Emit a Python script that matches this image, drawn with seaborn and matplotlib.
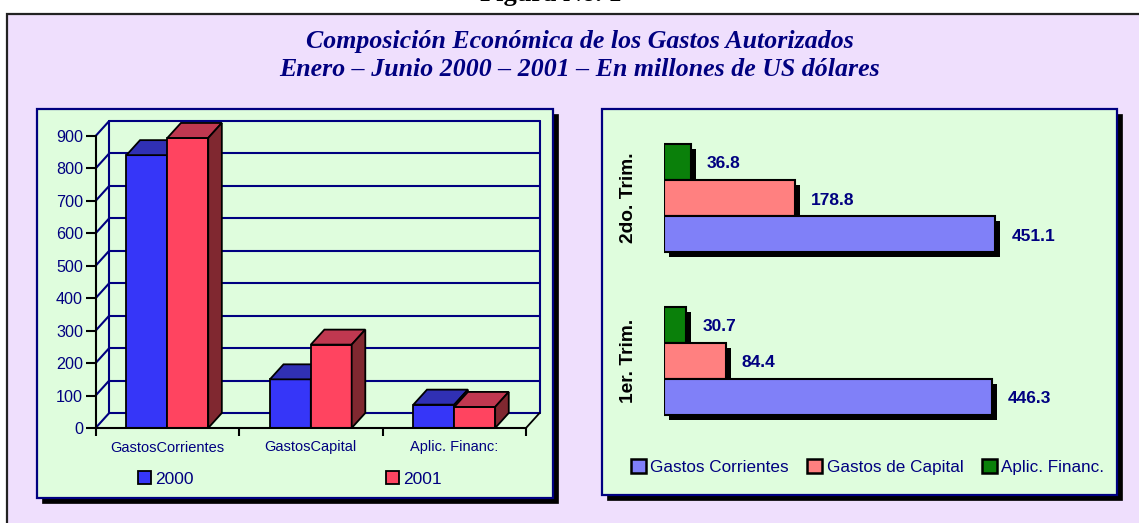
import numpy as np
import pandas as pd
import seaborn as sns
import matplotlib
matplotlib.use('Agg')
import matplotlib.pyplot as plt
import matplotlib.patches as mpatches
import matplotlib.patheffects as pe

# Data
years = ['2000', '2001']
year_cats = ['GastosCorrientes', 'GastosCapital', 'Aplic. Financ:']
vals_2000 = [841, 150, 72]
vals_2001 = [894, 257, 65]

trims = ['2do. Trim.', '1er. Trim.']
comp_names = ['Aplic. Financ.', 'Gastos de Capital', 'Gastos Corrientes']
aplic = [36.8, 30.7]
capital = [178.8, 84.4]
corrientes = [451.1, 446.3]

title = ('Composición Económica de los Gastos Autorizados\n'
         'Enero – Junio 2000 – 2001 – En millones de US dólares')

# Colours
navy = '#000080'
purple = '#EFDFFD'
mint = '#DFFDDD'
year_front = ['#3636F8', '#FF4460']
year_top = ['#3030B4', '#C03850']
year_side = ['#2A2A80', '#802830']
comp_colors = ['#0A800A', '#FF8080', '#8080F8']

W, H = 1139, 523
sns.set_theme(style='white')
plt.rcParams['font.family'] = ['Liberation Sans', 'DejaVu Sans']
fig = plt.figure(figsize=(W / 100, H / 100), dpi=100, facecolor='white')


def fx(x):
    return x / W


def fy(y):
    return 1 - y / H


def px_rect(x0, y0, x1, y1, **kw):
    r = mpatches.Rectangle((fx(x0), fy(y1)), (x1 - x0) / W, (y1 - y0) / H,
                           transform=fig.transFigure, zorder=-5, **kw)
    fig.add_artist(r)
    return r


def px_axes(x0, y0, x1, y1):
    ax = fig.add_axes([fx(x0), fy(y1), (x1 - x0) / W, (y1 - y0) / H])
    ax.patch.set_alpha(0)
    return ax


# Background panels
px_rect(7, 14, W + 10, H + 10, facecolor=purple, edgecolor='#222222', linewidth=1.6)
for x0, y0, x1, y1 in [(36.5, 109, 552.5, 498), (602, 109, 1117, 495)]:
    px_rect(x0 + 5, y0 + 5, x1 + 5, y1 + 5, facecolor='black', edgecolor='black', linewidth=0.5)
    px_rect(x0, y0, x1, y1, facecolor=mint, edgecolor=navy, linewidth=1.6)

fig.text(fx(551), fy(1.5), 'Figura No. 1', ha='center', va='baseline', color='black',
         fontsize=19, fontweight='bold', family='Liberation Serif')
fig.text(fx(580), fy(55.5), title, ha='center', va='center', color=navy, fontsize=18.6,
         fontweight='bold', fontstyle='italic', family='Liberation Serif', linespacing=1.3)

# Left chart: 3D looking columns
ax = px_axes(95.6, 136, 526, 428)
df_year = pd.DataFrame({'cat': year_cats * 2,
                        'year': years[0:1] * 3 + years[1:2] * 3,
                        'value': vals_2000 + vals_2001})
sns.barplot(df_year, x='cat', y='value', hue='year', ax=ax, palette=year_front,
            width=0.57, gap=0, legend=False, edgecolor='black', linewidth=1.3, saturation=1)
ax.set_xlim(-0.5, 2.5)
ax.set_ylim(0, 900)
ax.set_xlabel('')
ax.set_ylabel('')

# depth in data units, from the pixel offset of the back wall
dx = 13.6 / (430.4 / 3)
dy = 15 / (292 / 900)
yt = np.arange(0, 1000, 100)
for v in yt:
    ax.plot([-0.5 + dx, 2.5 + dx], [v + dy, v + dy], color=navy, lw=1.5, clip_on=False, zorder=0.5)
    ax.plot([-0.5, -0.5 + dx], [v, v + dy], color=navy, lw=1.5, clip_on=False, zorder=0.5)
for x in [-0.5 + dx, 2.5 + dx]:
    ax.plot([x, x], [dy, 900 + dy], color=navy, lw=1.5, clip_on=False, zorder=0.5)
ax.plot([2.5, 2.5 + dx], [0, dy], color='black', lw=1.3, clip_on=False, zorder=0.6)

for i, cont in enumerate(ax.containers):
    for bar in cont:
        bar.set_zorder(2 + i)
        x0, x1 = bar.get_x(), bar.get_x() + bar.get_width()
        h = bar.get_height()
        top = [(x0, h), (x0 + dx, h + dy), (x1 + dx, h + dy), (x1, h)]
        side = [(x1, 0), (x1 + dx, dy), (x1 + dx, h + dy), (x1, h)]
        ax.add_patch(mpatches.Polygon(top, facecolor=year_top[i], edgecolor='black', lw=1.3,
                                      clip_on=False, zorder=2 + i))
        ax.add_patch(mpatches.Polygon(side, facecolor=year_side[i], edgecolor='black', lw=1.3,
                                      clip_on=False, zorder=2 + i))

sns.despine(ax=ax)
for s in ['left', 'bottom']:
    ax.spines[s].set_color('black')
    ax.spines[s].set_linewidth(1.5)
    ax.spines[s].set_zorder(10)
ax.set_yticks(yt)
ax.set_xticks([-0.5, 0.5, 1.5, 2.5], labels=[''] * 4)
ax.set_xticks([0, 1, 2], labels=year_cats, minor=True)
ax.tick_params(axis='y', left=True, length=7, width=1.5, color='black', labelcolor=navy,
               labelsize=11.6, pad=2)
ax.tick_params(axis='x', which='major', bottom=True, length=6, width=1.5, color='black')
ax.tick_params(axis='x', which='minor', bottom=False, length=0, labelcolor=navy, labelsize=10.5, pad=9)
handles = [mpatches.Patch(facecolor=c, edgecolor='black', linewidth=1.3) for c in year_front]
fig.legend(handles, years, ncol=2, loc='center', bbox_to_anchor=(fx(290), fy(479)), frameon=False,
           fontsize=12.5, labelcolor=navy, borderpad=0, handlelength=0.72, handleheight=0.72,
           handletextpad=0.25, columnspacing=11.1)

# Right chart: horizontal bars with a hard shadow
ax2 = px_axes(663.8, 116.6, 1031.3, 442)
df_comp = pd.DataFrame({'trim': trims * 3,
                        'name': np.repeat(comp_names, 2),
                        'value': aplic + capital + corrientes})
shadow = [pe.SimplePatchShadow(offset=(3.4, -3.6), shadow_rgbFace='black', alpha=1), pe.Normal()]
sns.barplot(df_comp, x='value', y='trim', hue='name', order=trims, hue_order=comp_names, ax=ax2,
            palette=comp_colors, width=0.665, gap=0, legend=False, orient='h',
            edgecolor='black', linewidth=1.5, saturation=1)
ax2.set_xlim(0, 500)
ax2.set_ylim(1.5, -0.5)
ax2.set_xlabel('')
ax2.set_ylabel('')
ax2.set_xticks([])
sns.despine(ax=ax2, left=True, bottom=True)
ax2.tick_params(axis='y', length=0, pad=19, labelcolor='black')
for lab in ax2.get_yticklabels():
    lab.set_rotation(90)
    lab.set_va('center')
    lab.set_fontsize(13.8)
    lab.set_fontweight('bold')
for cont in ax2.containers:
    for bar in cont:
        bar.set_path_effects(shadow)
    for t in ax2.bar_label(cont, fmt='%.1f', padding=11.5, color=navy, fontsize=12.5, fontweight='bold'):
        t.xyann = (t.xyann[0], -1.5)

handles2 = [mpatches.Patch(facecolor=c, edgecolor='black', linewidth=1.8) for c in comp_colors[::-1]]
fig.legend(handles2, comp_names[::-1], ncol=3, loc='center', bbox_to_anchor=(fx(867.6), fy(467)),
           frameon=False, fontsize=12.3, labelcolor=navy, borderpad=0, handlelength=0.88,
           handleheight=0.88, handletextpad=0.25, columnspacing=1.07)

fig.savefig('out.png', dpi=100)
